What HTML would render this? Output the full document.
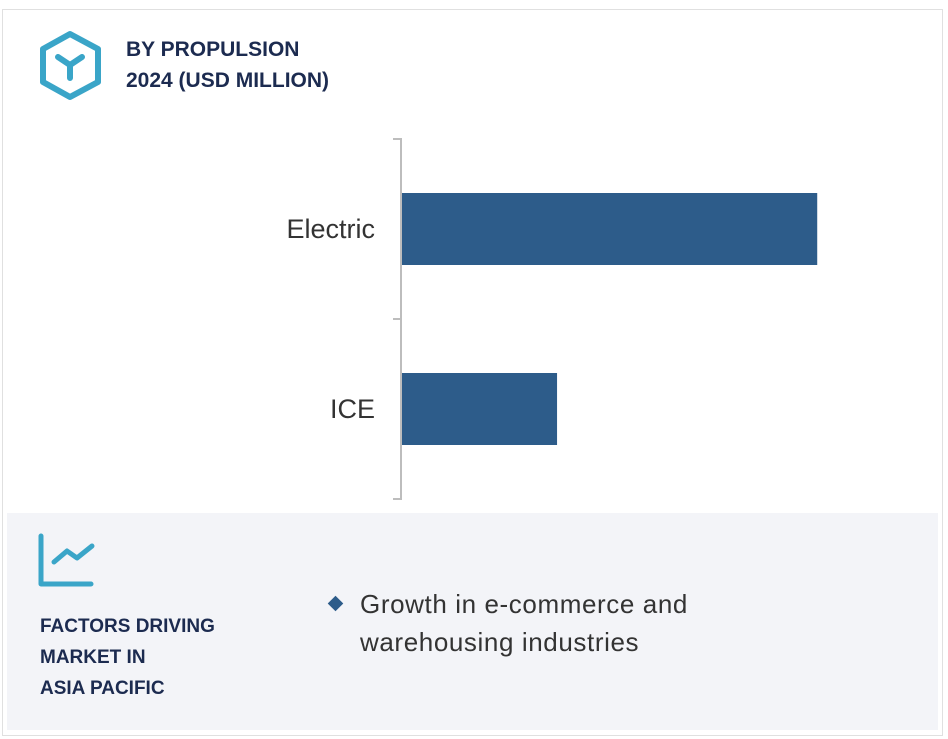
<!DOCTYPE html>
<html><head><meta charset="utf-8"><style>
body{margin:0;width:948px;height:739px;background:#fff;font-family:"Liberation Sans",sans-serif;overflow:hidden;position:relative}
.frame{position:absolute;left:2px;top:9px;width:941px;height:727px;border:1px solid #e0e0e0;box-sizing:border-box}
.title{position:absolute;left:126px;top:34px;font-weight:bold;font-size:21px;line-height:31px;color:#1c2b50}
.panel{position:absolute;left:7px;top:513px;width:931px;height:217px;background:#f3f4f8}
.ftitle{position:absolute;left:40px;top:611px;font-weight:bold;font-size:19px;line-height:31px;color:#1c2b50}
.bullet{position:absolute;left:360px;top:585px;font-size:26px;letter-spacing:0.6px;line-height:38px;color:#333}
.dia{position:absolute;left:330px;top:598px;width:11px;height:11px;background:#2d5c8a;transform:rotate(45deg)}
</style></head><body>
<div class="frame"></div>
<svg style="position:absolute;left:38px;top:30px" width="66" height="72">
<polygon points="32,4 60,19 60,52 32,67 5,52 5,19" fill="none" stroke="#3aa5c8" stroke-width="6" stroke-linejoin="round"/>
<path d="M20,27 L32,35 L44,27 M32,35 L32,48" fill="none" stroke="#3aa5c8" stroke-width="6" stroke-linecap="round"/>
</svg>
<div class="title">BY PROPULSION<br>2024 (USD MILLION)</div>
<svg id="chart" style="position:absolute;left:0;top:0" width="948" height="510"></svg>
<div class="panel"></div>
<svg style="position:absolute;left:37px;top:532px" width="60" height="58">
<path d="M4,4 L4,52 L54,52" fill="none" stroke="#3aa5c8" stroke-width="5" stroke-linecap="round" stroke-linejoin="round"/>
<path d="M17,30 L30,19 L40,26 L55,14" fill="none" stroke="#3aa5c8" stroke-width="5" stroke-linecap="round" stroke-linejoin="round"/>
</svg>
<div class="ftitle">FACTORS DRIVING<br>MARKET IN<br>ASIA PACIFIC</div>
<div class="dia"></div>
<div class="bullet">Growth in e-commerce and<br>warehousing industries</div>
<script>
const categories=["Electric","ICE"];
const values=[2370,885];
const xMax=2500;
const svg=document.getElementById('chart');
const NS='http://www.w3.org/2000/svg';
const x0=402,xw=438,yTop=139,yBot=499;
const band=(yBot-yTop)/categories.length;
const xs=v=>x0+v/xMax*xw;
function mk(t,a){const e=document.createElementNS(NS,t);for(const k in a)e.setAttribute(k,a[k]);svg.appendChild(e);return e;}
const ax=mk('path',{d:`M393,${yTop} L401,${yTop} L401,${yBot} L393,${yBot}`,fill:'none',stroke:'#bdbdbd','stroke-width':2});


for(let i=1;i<categories.length;i++){const t=mk('line',{x1:393,x2:401,y1:yTop+band*i,y2:yTop+band*i,stroke:'#bdbdbd','stroke-width':2});

}
categories.forEach((c,i)=>{
const cy=yTop+band*i+band/2;
const r=mk('rect',{x:x0,y:cy-36,width:xs(values[i])-x0,height:72,fill:'#2d5c8a'});


const t=mk('text',{x:375,y:cy+9,'text-anchor':'end','font-size':27,fill:'#333','font-family':'Liberation Sans, sans-serif'});
t.textContent=c;


});
</script>
</body></html>
